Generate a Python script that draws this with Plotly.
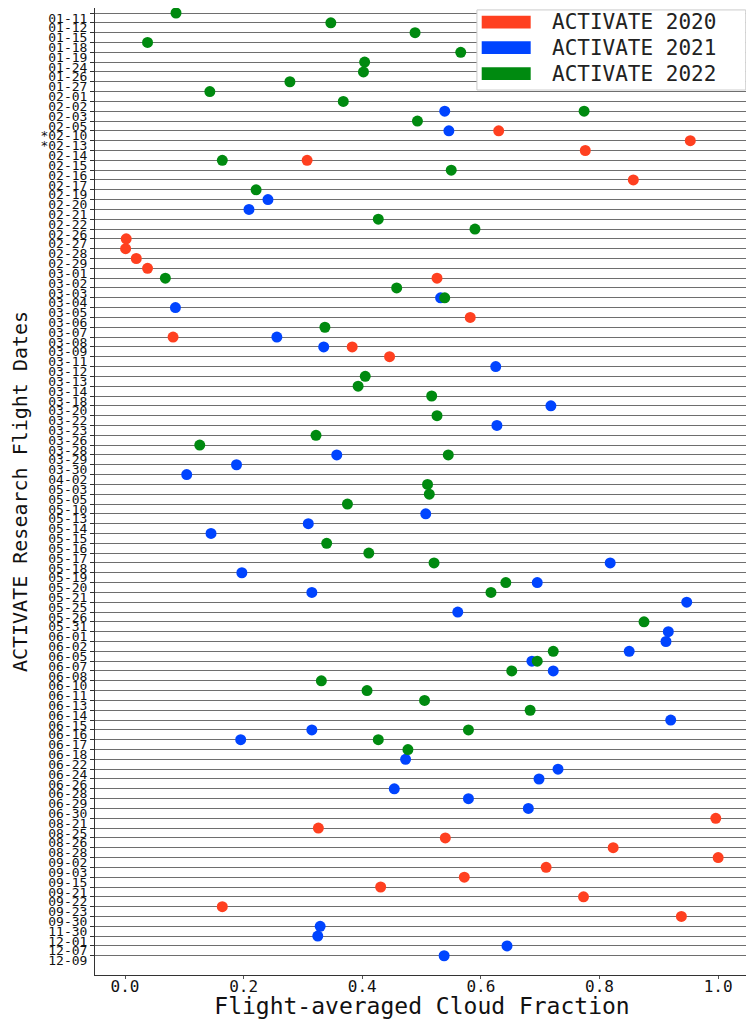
import plotly.graph_objects as go

flightDates = ['01-11', '01-12', '01-15', '01-18', '01-19', '01-24', '01-26', '01-27',
               '02-01', '02-02', '02-03', '02-05', '*02-10', '*02-13', '02-14', '02-15',
               '02-16', '02-17', '02-19', '02-20', '02-21', '02-22', '02-26', '02-27',
               '02-28', '02-29', '03-01', '03-02', '03-03', '03-04', '03-05', '03-06',
               '03-07', '03-08', '03-09', '03-11', '03-12', '03-13', '03-14', '03-18',
               '03-20', '03-22', '03-23', '03-26', '03-28', '03-29', '03-30', '04-02',
               '05-03', '05-05', '05-10', '05-13', '05-14', '05-15', '05-16', '05-17',
               '05-18', '05-19', '05-20', '05-21', '05-25', '05-26', '05-31', '06-01',
               '06-02', '06-05', '06-07', '06-08', '06-10', '06-11', '06-13', '06-14',
               '06-15', '06-16', '06-17', '06-18', '06-22', '06-24', '06-26', '06-28',
               '06-29', '06-30', '08-21', '08-25', '08-26', '08-28', '09-02', '09-03',
               '09-15', '09-21', '09-22', '09-23', '09-30', '11-30', '12-01', '12-07',
               '12-09']

dates2020 = ['*02-10', '*02-13', '02-14', '02-15', '02-17', '02-27', '02-28', '02-29',
             '03-01', '03-02', '03-06', '03-08', '03-09', '03-11', '08-21', '08-25',
             '08-26', '08-28', '09-02', '09-03', '09-15', '09-21', '09-22', '09-23', '09-30']
cf2020 = [0.630, 0.953, 0.776, 0.307, 0.857, 0.002, 0.001, 0.019,
          0.038, 0.526, 0.582, 0.081, 0.383, 0.446, 0.996, 0.326,
          0.540, 0.823, 1.000, 0.710, 0.572, 0.431, 0.773, 0.164, 0.938]

dates2021 = ['02-03', '*02-10', '02-20', '02-21', '03-04', '03-05', '03-08', '03-09',
             '03-12', '03-20', '03-23', '03-29', '03-30', '04-02', '05-13', '05-14',
             '05-15', '05-18', '05-19', '05-20', '05-21', '05-25', '05-26', '06-01',
             '06-02', '06-05', '06-07', '06-08', '06-15', '06-16', '06-17', '06-22',
             '06-24', '06-26', '06-28', '06-29', '06-30', '11-30', '12-01', '12-07', '12-09']
cf2021 = [0.539, 0.546, 0.241, 0.209, 0.532, 0.085, 0.256, 0.335,
          0.625, 0.718, 0.627, 0.357, 0.188, 0.104, 0.507, 0.309,
          0.145, 0.818, 0.197, 0.695, 0.315, 0.947, 0.561, 0.916,
          0.912, 0.850, 0.686, 0.722, 0.920, 0.315, 0.195, 0.473,
          0.730, 0.698, 0.454, 0.579, 0.680, 0.329, 0.325, 0.644, 0.538]

dates2022 = ['01-11', '01-12', '01-15', '01-18', '01-19', '01-24', '01-26', '01-27',
             '02-01', '02-02', '02-03', '02-05', '02-15', '02-16', '02-19', '02-22',
             '02-26', '03-02', '03-03', '03-04', '03-07', '03-13', '03-14', '03-18',
             '03-22', '03-26', '03-28', '03-29', '05-03', '05-05', '05-10', '05-16',
             '05-17', '05-18', '05-20', '05-21', '05-31', '06-05', '06-07', '06-08',
             '06-10', '06-11', '06-13', '06-14', '06-16', '06-17', '06-18']
cf2022 = [0.086, 0.347, 0.489, 0.038, 0.566, 0.404, 0.402, 0.278,
          0.143, 0.368, 0.774, 0.493, 0.164, 0.550, 0.221, 0.427,
          0.590, 0.068, 0.458, 0.539, 0.337, 0.405, 0.393, 0.517,
          0.526, 0.322, 0.126, 0.545, 0.510, 0.513, 0.375, 0.340,
          0.411, 0.521, 0.642, 0.617, 0.875, 0.722, 0.695, 0.652,
          0.331, 0.408, 0.505, 0.683, 0.579, 0.427, 0.477]

campaigns = ['ACTIVATE 2020', 'ACTIVATE 2021', 'ACTIVATE 2022']
colorsArr = ['#ff4020', '#0044ff', '#008a10']
monoFont = 'DejaVu Sans Mono'

fig = go.Figure()
for name, dates, cf, color in zip(campaigns, [dates2020, dates2021, dates2022],
                                  [cf2020, cf2021, cf2022], colorsArr):
    fig.add_trace(go.Scatter(x=cf, y=dates, mode='markers', name=name,
                             marker=dict(color=color, size=11, line=dict(width=0)),
                             showlegend=False))

# hand-made legend box (wide colour patches like the original)
shapes = [dict(type='rect', xref='paper', yref='paper', x0=0.584, x1=0.995, y0=0.9152, y1=0.998,
               fillcolor='white', line=dict(color='#cccccc', width=1), layer='above')]
annotations = []
legendY = [0.9855, 0.9590, 0.9321]
for name, color, ly in zip(campaigns, colorsArr, legendY):
    shapes.append(dict(type='rect', xref='paper', yref='paper', x0=0.5913, x1=0.6662,
                       y0=ly - 0.0066, y1=ly + 0.0066, fillcolor=color,
                       line=dict(width=0), layer='above'))
    annotations.append(dict(text=name, xref='paper', yref='paper', x=0.6957, y=ly,
                            xanchor='left', yanchor='middle', showarrow=False,
                            font=dict(family=monoFont, size=21, color='#222222')))

fig.update_xaxes(range=[-0.0506, 1.052], tickvals=[0, 0.2, 0.4, 0.6, 0.8, 1.0],
                 ticktext=['0.0', '0.2', '0.4', '0.6', '0.8', '1.0'],
                 ticks='outside', ticklen=3, tickcolor='#555555',
                 ticklabelstandoff=-6,
                 showgrid=False, zeroline=False,
                 showline=True, linecolor='#333333', linewidth=1, mirror=True,
                 tickfont=dict(family=monoFont, size=16, color='#111111'),
                 title=dict(text='Flight-averaged Cloud Fraction', standoff=5,
                            font=dict(family=monoFont, size=23, color='#111111')))
fig.update_yaxes(type='category', categoryorder='array', categoryarray=flightDates,
                 tickmode='array', tickvals=flightDates, ticktext=flightDates,
                 range=[97.96, -0.51], ticks='outside', ticklen=4, tickcolor='#333333',
                 ticklabelshift=-5,
                 showgrid=True, gridcolor='#6e6e6e', gridwidth=1.3,
                 showline=True, linecolor='#333333', linewidth=1, mirror='ticks',
                 tickfont=dict(family=monoFont, size=13, color='#111111'),
                 title=dict(text='ACTIVATE Research Flight Dates', standoff=19,
                            font=dict(family=monoFont, size=20, color='#111111')))

# page body adds 8px around the div, so the figure is 8px smaller than the window
fig.update_layout(width=746, height=1011, margin=dict(l=87, r=5, t=0, b=44, autoexpand=False),
                  plot_bgcolor='white', paper_bgcolor='white',
                  shapes=shapes, annotations=annotations)

fig.write_html("out.html")
